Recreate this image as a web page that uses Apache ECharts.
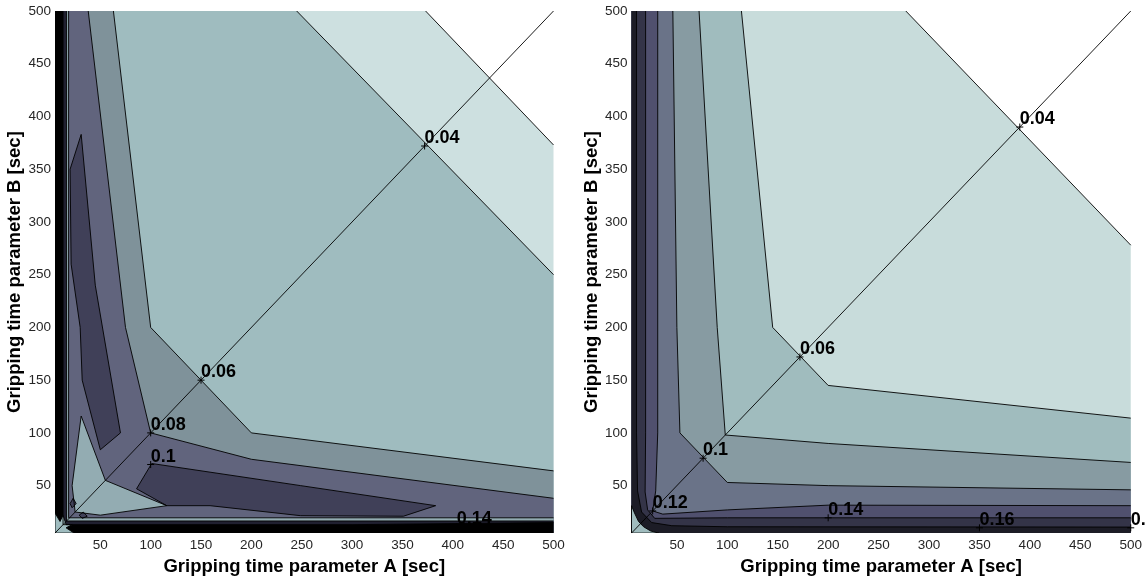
<!DOCTYPE html>
<html>
<head>
<meta charset="utf-8">
<script src="https://cdn.jsdelivr.net/npm/echarts@6/dist/echarts.min.js"></script>
<style>
html, body { margin: 0; padding: 0; background: #ffffff; }
#chart { width: 1145px; height: 581px; }
</style>
</head>
<body>
<div id="chart"></div>
<script>
// Axis range and tick positions (seconds)
const axisMin = 5;
const axisMax = 500;
const tickValues = [50, 100, 150, 200, 250, 300, 350, 400, 450, 500];

// Reference diagonal A = B
const diagonal = [[5, 5], [500, 500]];

// ---------- Left map: iso-lines [A, B] ----------
// Lines that run from the top edge to the right edge
const leftLine002 = [[373, 500], [500, 373]];
const leftLine004 = [[245, 500], [500, 250]];
const leftLine006 = [[63, 500], [100, 200], [200, 100], [500, 64]];
const leftLine008 = [[38, 500], [75, 200], [100, 100], [200, 75], [500, 38]];
// Pockets of higher values along each axis (z >= 0.10)
const leftPocketA = [[101, 71], [249, 50], [383, 31], [351, 21], [249, 21.5], [159, 31], [116, 31], [86, 47]];
const leftPocketB = [[70, 100], [45, 240], [31, 383], [20, 350], [21, 260], [30, 200], [32, 150], [50, 84]];
// Lower-valued wedge between the pockets
const leftWedge = [[31, 116], [55, 55], [116, 31], [50, 22], [25, 25], [22, 50]];
// Bands hugging both axes
const leftEdgeLow = [[18.5, 500], [18.5, 19.5], [500, 19.5]];
const leftEdge012 = [[16.5, 500], [16.5, 16.5], [500, 16.5]];
const leftEdge014 = [[13, 500], [13, 13], [300, 13], [500, 15]];
// Small structures at the origin
const leftCorner = [[5, 5], [5, 24], [10, 16], [13, 22], [16, 13], [22, 13], [16, 10], [24, 5]];
const leftSpotB = [[20, 33], [23, 38], [26, 33], [22, 29]];
const leftSpotA = [[29, 22], [33, 25], [37, 21], [32, 19]];
// Labelled points: [A, B, level]
const leftLabels = [[372, 372, 0.04], [150, 150, 0.06], [100, 100, 0.08], [100, 70, 0.1], [404, 11, 0.14]];

// ---------- Right map: iso-lines [A, B] ----------
const rightLine004 = [[277, 500], [500, 278]];
const rightLine006 = [[114, 500], [145, 200], [200, 145], [500, 114]];
const rightLine008 = [[72, 500], [90, 200], [98, 98], [200, 90], [500, 72]];
const rightLine010 = [[46, 500], [50, 200], [53, 100], [100, 53], [200, 50], [500, 46]];
const rightLine012 = [[31, 500], [31, 100], [29, 45], [26, 26], [36, 23], [100, 27], [200, 31.5], [500, 31]];
const rightLine014 = [[19, 500], [19, 100], [18.5, 44], [21, 27], [28, 19], [100, 19.5], [500, 19.5]];
const rightLine016 = [[10, 500], [10, 100], [11, 45], [15, 25], [25, 15], [45, 12], [100, 11], [500, 10.7]];
const rightCorner = [[5, 5], [5, 31], [8, 24], [12, 16], [17, 11], [24, 7], [32, 5]];
const rightLabels = [[390, 390, 0.04], [172, 172, 0.06], [76, 76, 0.1], [26, 26, 0.12], [200, 19.5, 0.14], [350, 10, 0.16], [500, 10, 0.16]];

// Band colours, lowest band first (flipped bone colour map)
const leftColors = ['#ffffff', '#cde0e0', '#9fbcbf', '#7f929a', '#61647d', '#404058', '#202030', '#000000'];
const rightColors = ['#f3f7f8', '#c8dcdb', '#a0bcbe', '#879ba2', '#6a7388', '#50506e', '#343448', '#1c1c26'];
const leftWedgeColor = '#93acb2';

// Filled layers, painted in order. "open" layers are closed through the lower-left corner.
const leftLayers = [
  { pts: leftLine002, band: 1, open: true },
  { pts: leftLine004, band: 2, open: true },
  { pts: leftLine006, band: 3, open: true },
  { pts: leftLine008, band: 4, open: true },
  { pts: leftPocketA, band: 5 },
  { pts: leftPocketB, band: 5 },
  { pts: leftWedge, band: 3, color: leftWedgeColor },
  { pts: leftEdgeLow, band: 3, open: true, color: leftWedgeColor },
  { pts: leftEdge012, band: 6, open: true },
  { pts: leftEdge014, band: 7, open: true },
  { pts: leftCorner, band: 2 },
  { pts: leftSpotB, band: 5 },
  { pts: leftSpotA, band: 5 }
];
const rightLayers = [
  { pts: rightLine004, band: 1, open: true },
  { pts: rightLine006, band: 2, open: true },
  { pts: rightLine008, band: 3, open: true },
  { pts: rightLine010, band: 4, open: true },
  { pts: rightLine012, band: 5, open: true },
  { pts: rightLine014, band: 6, open: true },
  { pts: rightLine016, band: 7, open: true },
  { pts: rightCorner, band: 2 }
];

const FONT = '"Liberation Sans", Arial, Helvetica, sans-serif';

function fillRenderer(layers, colors) {
  return function (params, api) {
    const layer = layers[params.dataIndex];
    let pts = layer.pts;
    if (layer.open) {
      pts = pts.concat([[axisMax, axisMin], [axisMin, axisMin], [axisMin, axisMax]]);
    }
    return {
      type: 'polygon',
      shape: { points: pts.map(p => api.coord(p)) },
      style: { fill: layer.color || colors[layer.band], stroke: null }
    };
  };
}

function lineRenderer(layers) {
  return function (params, api) {
    const layer = layers[params.dataIndex];
    const pts = layer.pts.map(p => api.coord(p));
    return {
      type: layer.open ? 'polyline' : 'polygon',
      shape: { points: pts },
      style: { fill: null, stroke: '#000000', lineWidth: 0.9 }
    };
  };
}

function labelRenderer(params, api) {
  const p = api.coord([api.value(0), api.value(1)]);
  const s = 3.5;
  return {
    type: 'group',
    children: [
      { type: 'line', shape: { x1: p[0] - s, y1: p[1], x2: p[0] + s, y2: p[1] }, style: { stroke: '#000', lineWidth: 1 } },
      { type: 'line', shape: { x1: p[0], y1: p[1] - s, x2: p[0], y2: p[1] + s }, style: { stroke: '#000', lineWidth: 1 } },
      {
        type: 'text', x: p[0], y: p[1] + 1,
        style: {
          text: String(api.value(2)),
          fill: '#000000',
          font: 'bold 18px ' + FONT,
          textAlign: 'left',
          textVerticalAlign: 'bottom'
        }
      }
    ]
  };
}

function xAxisFor(gridIndex) {
  return {
    gridIndex: gridIndex, type: 'value', min: axisMin, max: axisMax,
    name: 'Gripping time parameter A [sec]', nameLocation: 'middle', nameGap: 21,
    nameTextStyle: { fontFamily: FONT, fontWeight: 'bold', fontSize: 18.5, color: '#000' },
    axisLine: { show: false }, axisTick: { show: false }, splitLine: { show: false },
    axisLabel: { customValues: tickValues, margin: 5, fontFamily: FONT, fontSize: 13.5, color: '#262626' }
  };
}
function yAxisFor(gridIndex) {
  return {
    gridIndex: gridIndex, type: 'value', min: axisMin, max: axisMax,
    name: 'Gripping time parameter B [sec]', nameLocation: 'middle', nameGap: 29,
    nameTextStyle: { fontFamily: FONT, fontWeight: 'bold', fontSize: 18.5, color: '#000' },
    axisLine: { show: false }, axisTick: { show: false }, splitLine: { show: false },
    axisLabel: { customValues: tickValues, margin: 4, fontFamily: FONT, fontSize: 13.5, color: '#262626' }
  };
}

function panelSeries(idx, layers, colors, labels) {
  return [
    {
      type: 'custom', xAxisIndex: idx, yAxisIndex: idx, coordinateSystem: 'cartesian2d',
      data: layers.map(l => l.pts[0]), renderItem: fillRenderer(layers, colors),
      clip: true, silent: true, z: 1
    },
    {
      type: 'custom', xAxisIndex: idx, yAxisIndex: idx, coordinateSystem: 'cartesian2d',
      data: layers.map(l => l.pts[0]), renderItem: lineRenderer(layers),
      clip: true, silent: true, z: 2
    },
    {
      type: 'line', xAxisIndex: idx, yAxisIndex: idx, data: diagonal,
      symbol: 'none', lineStyle: { color: '#000', width: 0.9 }, silent: true, z: 3
    },
    {
      type: 'custom', xAxisIndex: idx, yAxisIndex: idx, coordinateSystem: 'cartesian2d',
      data: labels, renderItem: labelRenderer, clip: false, silent: true, z: 4
    }
  ];
}

const chart = echarts.init(document.getElementById('chart'), null, { renderer: 'canvas' });
chart.setOption({
  animation: false,
  backgroundColor: '#ffffff',
  grid: [
    { left: 55, top: 11, width: 498.5, height: 526 },
    { left: 631.5, top: 11, width: 500.5, height: 526 }
  ],
  xAxis: [xAxisFor(0), xAxisFor(1)],
  yAxis: [yAxisFor(0), yAxisFor(1)],
  series: [].concat(
    panelSeries(0, leftLayers, leftColors, leftLabels),
    panelSeries(1, rightLayers, rightColors, rightLabels)
  )
});
</script>
</body>
</html>
